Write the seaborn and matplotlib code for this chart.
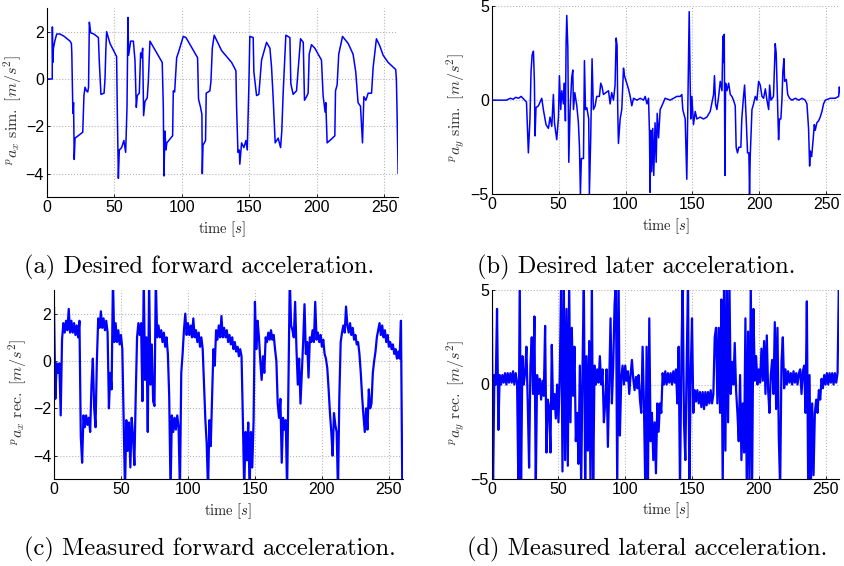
import numpy as np
import pandas as pd
import matplotlib
matplotlib.use("Agg")
import matplotlib.pyplot as plt
import seaborn as sns

# ---------------- data ----------------
# (a) desired forward acceleration  [time s, value m/s^2]
t_ax_sim = [0, 4.1, 4.2, 4.5, 5.0, 6.0, 7.4, 9.9, 13.0, 17.3,
            18.3, 18.6, 19.4, 19.9, 20.4, 21.0, 26.7, 27.6, 28.4, 29.5,
            30.4, 31.0, 31.6, 32.6, 35.0, 38.3, 39.0, 40.2, 42.5, 43.2,
            43.8, 44.4, 46.9, 51.8, 52.3, 53.1, 53.8, 55.5, 57.2, 58.5,
            59.5, 60.2, 60.7, 62.2, 64.2, 65.4, 66.4, 67.1, 68.6, 69.6,
            70.3, 71.1, 71.8, 72.8, 74.5, 75.3, 76.5, 85.6, 86.4, 86.9,
            87.6, 88.4, 89.0, 93.3, 93.8, 94.8, 96.3, 97.5, 101.2, 103.2,
            111.8, 112.5, 114.0, 115.0, 115.3, 115.8, 117.7, 118.2, 120.9, 121.7,
            122.7, 124.1, 129.6, 137.0, 140.2, 140.7, 141.7, 142.7, 143.1, 144.4,
            146.1, 147.6, 148.6, 149.3, 149.8, 150.5, 153.0, 153.5, 155.5, 157.2,
            159.2, 162.9, 165.4, 166.6, 167.8, 169.3, 171.5, 173.3, 174.2, 175.2,
            177.2, 180.2, 180.9, 182.6, 185.1, 188.1, 190.1, 191.0, 192.5, 193.7,
            194.5, 196.2, 198.7, 203.6, 204.8, 206.3, 206.8, 207.8, 209.8, 213.5,
            214.0, 215.2, 216.4, 219.2, 223.4, 227.0, 229.0, 230.7, 232.5, 233.2,
            234.0, 235.0, 236.5, 238.2, 240.7, 241.9, 244.3, 246.8, 249.3, 253.0,
            258.6, 259.1, 259.6, 260.4]
ax_sim = [0, 0, 2.2, 0.7, 1.3, 1.6, 1.9, 1.9, 1.8, 1.6,
          1.5, 1.1, -1.45, -1.0, -3.4, -2.5, -2.25, -0.7, -0.35, -0.5,
          -0.55, -0.35, 2.4, 1.95, 1.9, 1.75, 0.7, -0.65, -0.6, 0.0,
          1.2, 2.0, 1.5, 0.95, -1.3, -4.2, -3.0, -2.9, -2.6, -3.1,
          -1.2, 2.6, 1.0, 1.6, 1.6, 0.8, -1.2, -0.7, -0.6, 1.1,
          0.9, 1.3, -1.55, -0.95, -0.8, -0.1, 1.6, 0.7, -1.2, -4.1,
          -2.2, -3.0, -2.7, -2.4, -0.5, -0.55, 0.9, 1.1, 1.8, 1.75,
          0.9, -0.85, -1.2, -1.5, -4.0, -2.8, -2.6, -0.6, -0.5, -0.1,
          1.3, 1.85, 1.2, 0.7, 0.35, -1.2, -3.1, -3.0, -3.6, -2.7,
          -2.9, -2.6, -3.0, -1.5, -0.3, 1.8, 1.75, 0.3, -0.7, -0.65,
          0.8, 1.55, 1.3, 0.5, -0.8, -2.7, -2.5, -2.9, -2.2, -0.6,
          1.85, 1.75, -0.2, -0.65, -0.5, 1.7, 1.55, -0.9, -0.75, -0.6,
          1.05, 1.45, 1.3, 0.8, -0.7, -1.4, -1.0, -2.7, -2.6, -2.4,
          -0.5, -0.25, 1.05, 1.8, 1.5, 1.05, 0.3, -1.0, -1.15, -1.9,
          -2.7, -0.75, -0.9, -0.6, -0.6, 0.5, 1.7, 1.4, 1.0, 0.7,
          0.4, 0.0, -1.4, -4.0]

# (b) desired lateral acceleration
t_ay_sim = [0, 11, 14, 16, 18, 20, 22, 24, 26, 26.7,
            27.4, 28.6, 29.4, 30.2, 31.2, 31.9, 32.4, 33.1, 34.9, 37.4,
            38.6, 40.6, 42.4, 43.6, 44.9, 46.1, 46.9, 48.6, 49.9, 50.6,
            51.6, 52.4, 53.6, 54.3, 55.1, 55.6, 56.1, 56.9, 57.6, 58.6,
            59.8, 60.6, 61.1, 62.1, 63.6, 64.8, 65.6, 66.3, 67.0, 68.6,
            69.3, 70.1, 71.1, 72.5, 73.0, 74.0, 75.0, 76.0, 77.3, 78.5,
            80.5, 81.5, 82.5, 83.5, 85.3, 87.3, 88.5, 89.7, 91.0, 92.2,
            93.0, 93.7, 94.2, 94.7, 96.0, 97.2, 98.5, 99.2, 100.5, 102.2,
            103.5, 104.7, 106.0, 108.5, 111.0, 113.5, 114.7, 116.0, 117.2, 117.9,
            118.4, 118.9, 119.6, 120.4, 121.1, 122.1, 122.9, 123.7, 124.7, 125.9,
            127.2, 128.4, 129.6, 133.4, 135.9, 138.4, 140.9, 142.1, 142.8, 144.6,
            145.8, 146.6, 147.1, 147.6, 148.3, 148.8, 149.6, 150.8, 152.1, 153.3,
            155.8, 158.3, 160.8, 163.3, 165.8, 166.5, 167.3, 168.3, 169.6, 170.8,
            172.1, 172.8, 173.3, 173.8, 174.3, 174.8, 175.8, 177.1, 178.3, 179.5,
            180.7, 182.0, 182.7, 183.7, 184.7, 186.2, 186.9, 188.2, 189.0, 190.2,
            191.2, 192.2, 192.7, 193.2, 194.5, 195.7, 197.0, 198.2, 199.5, 200.7,
            202.0, 203.2, 204.5, 205.7, 207.0, 207.7, 208.7, 210.6, 211.9, 212.6,
            213.6, 214.4, 215.1, 216.1, 216.9, 217.6, 218.4, 218.9, 220.2, 221.2,
            222.6, 224.4, 226.9, 229.4, 231.9, 234.3, 235.6, 236.8, 237.6, 238.1,
            239.1, 240.1, 241.1, 241.8, 243.0, 244.3, 245.5, 246.8, 248.0, 249.3,
            253.0, 256.8, 259.3, 259.8, 260.3]
ay_sim = [0, 0, 0.1, 0.05, 0.15, 0.1, 0.2, 0.05, -0.1, -1.5,
          -2.8, -1.0, 1.5, 2.4, 2.6, 1.0, -1.9, -0.4, -0.3, 0.1,
          -0.5, -1.3, -1.5, -0.9, -1.4, 0.3, -1.2, -2.1, -0.9, 1.3,
          -0.5, 0.5, -0.2, 0.9, -1.1, 3.0, 4.5, 2.8, -3.3, -0.5,
          1.2, 1.6, -0.5, 0.4, -0.3, -1.2, -2.5, -5.0, -3.1, -3.1,
          2.1, -0.5, -0.4, -1.0, -5.0, -2.0, 2.2, -0.5, -0.3, 0.2,
          0.2, 0.9, 0.7, 0.3, 0.4, 0.5, -0.2, 0.4, 0.0, 0.8,
          3.3, 2.9, -0.5, -2.3, -1.0, -0.5, 1.7, 1.3, 1.0, 0.6,
          0.2, -0.3, 0.1, 0.0, 0.1, 0.0, 0.2, -0.2, 0.1, -1.7,
          -4.9, -1.6, -3.8, -1.5, -4.0, -1.2, -3.3, -0.7, -2.0, -0.5,
          -0.3, -0.1, 0.1, 0.0, 0.1, 0.2, 0.2, 0.3, -0.5, -1.0,
          -4.2, -0.3, 2.2, 4.7, 1.0, -1.0, 0.2, -1.3, -0.6, -1.0,
          -0.9, -1.0, -0.9, -0.6, 0.3, 1.3, -0.2, -0.5, 0.2, 1.0,
          0.5, 3.4, 2.0, 3.5, -4.0, 0.9, 0.5, 0.9, 0.3, 0.2,
          0.0, -0.3, -2.5, -2.8, -2.5, -2.5, -1.0, 0.2, 0.8, -1.0,
          -2.8, -2.8, -5.0, -3.0, -0.5, -0.2, 0.2, 0.0, 1.0, 0.8,
          0.2, 0.1, 0.6, 0.0, -0.5, 0.8, 0.0, 0.2, 3.0, 2.5,
          0.0, -2.1, -1.0, -1.0, 0.0, 1.5, 2.2, 1.0, 1.1, 0.3,
          0.1, 0.0, 0.1, 0.0, 0.1, 0.0, -0.2, -1.5, -3.5, -2.7,
          -3.0, -2.2, -1.3, -1.6, -1.2, -1.1, -0.9, -0.6, -0.2, 0.0,
          0.1, 0.1, 0.2, 0.7, 0.4]

# (c), (d) measured accelerations, one reading per second (t = 0 ... 260 s)
t_rec = np.arange(0, 261, 1.0)
ax_rec = [2.3, -1.6, -0.1, -0.5, -0.1, -2.3, 0.9, 1.6, 1.2, 1.7,
          1.3, 2.2, 1.2, 1.7, 1.2, 1.6, 1.1, 1.5, 1.0, 1.7,
          -3.2, -4.3, -2.3, -2.8, -2.3, -2.7, -2.4, -3.0, -1.0, 0.1,
          -2.0, -2.8, 0.0, 1.8, 1.4, 2.1, 1.4, 1.8, 1.3, 1.7,
          1.2, -2.0, -0.5, -1.2, 3.5, 0.8, 1.6, 0.8, 1.3, 0.7,
          1.1, 0.5, -2.5, -5.5, -2.5, -3.8, -2.6, -4.5, -2.4, -3.2,
          -4.4, -1.5, 1.0, 1.6, 1.1, 1.6, -1.7, 3.5, -0.8, 1.0,
          -3.0, 3.5, -1.0, 0.7, -1.7, -1.9, 3.5, 1.0, 1.5, 1.0,
          1.3, 0.8, 1.2, 0.6, 1.0, 0.3, -1.5, -5.5, -2.3, -3.0,
          -2.4, -2.9, -2.3, -2.8, -5.5, -0.5, 0.3, 1.3, 2.0, 1.1,
          1.6, 1.1, 1.5, 1.0, 1.8, 1.0, 1.3, 0.8, 1.2, 0.6,
          1.0, 0.5, -1.0, -2.5, -3.5, -5.5, -2.5, -3.6, -1.5, 0.5,
          -0.2, 1.3, 0.9, 1.5, 1.0, 1.9, 1.0, 1.4, 1.0, 1.3,
          0.8, 1.1, 0.7, 1.0, 0.5, 0.8, 0.4, 0.6, 0.2, 0.5,
          0.2, -2.5, -5.5, -3.0, -4.2, -2.6, -5.5, -3.0, -4.5, -2.5,
          2.5, 0.5, 1.7, 1.0, 0.0, -0.8, 0.2, -0.5, 1.0, 0.8,
          1.2, 0.9, 1.3, 0.9, 1.1, 0.5, 0.0, -1.8, -2.4, -1.6,
          -4.3, -2.4, -2.9, -2.5, -5.5, -1.0, 3.5, 1.5, 1.3, 1.0,
          2.5, 0.5, -1.0, 0.1, -1.8, -0.5, 0.8, 2.4, 0.3, 0.8,
          -0.7, 1.0, 0.8, 1.3, 0.8, 2.5, 0.9, 1.2, 0.8, 1.1,
          0.6, 0.9, 0.3, 0.1, -0.3, -1.2, -2.2, -3.0, -4.0, -2.2,
          -2.7, -3.0, -5.5, -1.5, 0.8, 1.2, 1.5, 1.2, 2.3, 1.5,
          1.2, 1.6, 1.1, 1.4, 0.9, 1.1, 0.7, 0.8, 0.3, -0.5,
          -1.5, -2.3, -3.0, -2.0, -2.9, -1.2, -2.0, -1.8, -0.5, 0.0,
          0.4, 1.0, 1.3, 1.6, 1.1, 1.5, 1.0, 1.3, 0.8, 1.1,
          0.6, 0.8, 0.5, 0.7, 0.3, 0.5, 0.1, 0.4, 0.1, 1.7,
          -5.5]
ay_rec = [5.5, -5.5, 0.5, 0.0, 4.0, -2.4, 0.5, 0.0, 0.5, 0.1,
          0.6, 0.0, 0.6, 0.1, 0.6, 0.1, 0.7, 0.0, 0.6, 0.1,
          -5.5, 5.5, -5.5, 1.5, 0.0, 0.6, 2.0, -1.0, -4.4, 1.0,
          2.5, -0.5, 3.6, -5.5, 0.5, -0.5, 0.3, -0.8, 0.2, -0.6,
          3.1, -3.6, -0.8, -1.2, -3.6, 2.1, -1.3, -0.5, -1.8, 0.0,
          -2.0, 0.5, 5.5, -4.6, 5.5, -4.0, 4.0, -4.3, 5.5, -2.0,
          3.0, -0.6, 2.0, -3.0, -1.5, -4.2, 1.0, -5.5, 0.8, 5.5,
          -5.5, 1.5, -3.5, 2.3, -5.5, 5.5, -5.5, 1.0, 0.0, 0.8,
          0.1, 1.5, 0.0, 0.8, -2.0, -1.0, 0.8, -3.3, 0.0, 3.5,
          -1.0, 1.0, 4.2, 5.5, -5.5, 5.5, -2.7, 0.3, 1.0, 0.0,
          1.0, 0.2, 0.7, -0.5, 0.5, 1.3, 0.3, -0.3, 0.4, -0.2,
          0.5, -0.8, -1.5, 2.0, -1.0, -5.5, 2.0, -5.5, 3.5, -3.0,
          -1.5, -4.0, -2.0, -4.7, -1.0, -2.5, -1.0, -1.5, 0.6, 0.0,
          0.7, 0.0, 0.6, 0.1, 0.6, 0.0, 0.7, 0.1, 0.8, -1.0,
          2.0, -5.5, 1.0, 5.5, -2.0, -4.0, 1.0, 5.5, -5.5, 0.5,
          3.5, -1.5, -0.3, -0.9, -0.3, -1.0, -0.4, -1.2, -0.4, -1.3,
          -0.4, -1.1, -0.4, -1.0, -0.3, -1.0, -0.5, 2.5, 3.0, -1.0,
          3.0, -1.5, 4.5, -5.5, 5.5, -3.5, 5.5, -2.0, 5.5, -0.5,
          1.2, 0.0, 2.2, -0.3, -1.5, -3.0, 0.5, -4.0, -1.0, -3.6,
          3.5, -5.5, 2.8, -5.5, 5.5, -5.5, 4.0, 0.2, 1.5, 0.0,
          0.8, 0.1, 1.9, 0.2, 2.3, -0.5, 2.6, -0.3, -1.5, 0.5,
          1.3, -0.5, 3.3, -1.3, 3.0, -2.8, -5.5, 1.2, 2.5, -0.2,
          0.8, 0.0, 0.7, 0.1, 0.6, 0.0, 0.7, 0.1, 0.6, 0.0,
          0.6, 0.8, -0.5, 0.7, 1.0, -1.5, 4.4, -5.5, 0.5, -5.5,
          -1.0, -4.8, -1.5, -0.8, -1.5, -0.3, -0.8, 0.3, -0.2, 0.5,
          0.0, 0.6, 0.0, 0.6, 0.1, 0.6, 0.0, 0.6, 0.1, 0.6,
          5.5]

x_ticks = [0, 50, 100, 150, 200, 250]
yticks_fwd = [-4, -2, 0, 2]
yticks_lat = [-5, 0, 5]

ylabels = [r'${}^{p}a_{x}\ \mathrm{sim.}\ [m/s^2]$',
           r'${}^{p}a_{y}\ \mathrm{sim.}\ [m/s^2]$',
           r'${}^{p}a_{x}\ \mathrm{rec.}\ [m/s^2]$',
           r'${}^{p}a_{y}\ \mathrm{rec.}\ [m/s^2]$']
xlabel = r'$\mathrm{time}\ [s]$'
captions = ['(a) Desired forward acceleration.',
            '(b) Desired later acceleration.',
            '(c) Measured forward acceleration.',
            '(d) Measured lateral acceleration.']

# ---------------- style ----------------
sns.set_theme(style="white")
plt.rcParams['font.family'] = ['Liberation Sans', 'DejaVu Sans']
plt.rcParams['mathtext.fontset'] = 'cm'
plt.rcParams['axes.unicode_minus'] = True

fig = plt.figure(figsize=(8.45, 5.66), dpi=100)

# axes rectangles in figure pixels: left, top, right, bottom
rects_px = [(46.7, 8, 398.0, 197.3),
            (491.7, 6, 840.0, 194.3),
            (54.0, 290, 402.7, 479.3),
            (491.7, 290, 839.3, 479.0)]
# right edge of each y label, in figure pixels
ylab_right_px = [24.0, 468.0, 29.0, 468.0]
W, H = 845.0, 566.0

series = [(t_ax_sim, ax_sim, yticks_fwd, (-5, 3), 1.1),
          (t_ay_sim, ay_sim, yticks_lat, (-5, 5), 1.1),
          (t_rec, ax_rec, yticks_fwd, (-5, 3), 1.6),
          (t_rec, ay_rec, yticks_lat, (-5, 5), 1.6)]

for i, ((l, t, r, b), (tx, vy, yt, yl, lw)) in enumerate(zip(rects_px, series)):
    ax = fig.add_axes([l / W, 1 - b / H, (r - l) / W, (b - t) / H])
    df = pd.DataFrame({'time': tx, 'acc': vy})
    sns.lineplot(data=df, x='time', y='acc', ax=ax, color='#0000ff',
                 linewidth=lw, estimator=None, sort=False)
    ax.set_xlim(0, 260.3)
    ax.set_ylim(*yl)
    ax.set_xticks(x_ticks)
    ax.set_yticks(yt)
    ax.grid(True, linestyle=':', color='#b8b8b8', linewidth=0.8)
    ax.set_axisbelow(True)
    for s in ('top', 'right'):
        ax.spines[s].set_visible(False)
    for s in ('left', 'bottom'):
        ax.spines[s].set_color('black')
        ax.spines[s].set_linewidth(0.8)
    ax.tick_params(axis='both', which='both', direction='in', length=2.5,
                   width=0.6, labelsize=11.5, pad=2, colors='black',
                   left=True, bottom=True)
    ax.set_ylabel(ylabels[i], fontsize=11.5, color='#333333')
    ax.set_xlabel(xlabel, fontsize=10.5, color='#222222')
    ax.yaxis.set_label_coords((ylab_right_px[i] - l) / (r - l), 0.46)
    ax.xaxis.set_label_coords(0.5, -0.115)

cap_pos = [(24, 267), (477, 267), (24, 549), (467, 549)]
for (cx, cy), txt in zip(cap_pos, captions):
    fig.text(cx / W, 1 - cy / H, txt, ha='left', va='center',
             family='cmr10', fontsize=17.6, color='black')

fig.savefig('out.png', dpi=100)
